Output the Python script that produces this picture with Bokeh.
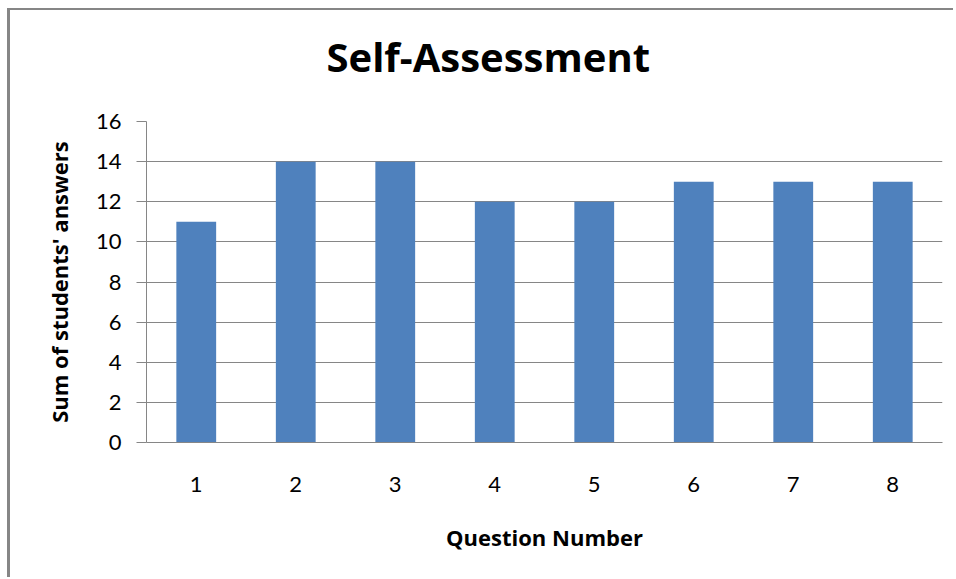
from bokeh.plotting import figure
from bokeh.models import Range1d, FixedTicker, ColumnDataSource, Title
from bokeh.embed import file_html
from bokeh.resources import INLINE

questions = [1, 2, 3, 4, 5, 6, 7, 8]
answers = [11, 14, 14, 12, 12, 13, 13, 13]
y_ticks = [0, 2, 4, 6, 8, 10, 12, 14, 16]
title_text = "Self-Assessment"
x_label = "Question Number"
y_label = "Sum of students' answers"

GRAY = "#868686"
BAR = "#4F81BD"
FONT = "Lato"
LFONT = "Open Sans"

src = ColumnDataSource(data=dict(q=questions, a=answers))

p = figure(width=946, height=569, output_backend="svg", toolbar_location=None,
           x_range=Range1d(0.5, 8.5), y_range=Range1d(0, 16),
           min_border_left=136, min_border_right=14, min_border_top=111,
           min_border_bottom=137,
           styles={"margin-left": "7px", "margin-top": "8px",
                   "border-left": f"3px solid {GRAY}",
                   "border-top": f"2px solid {GRAY}"})
p.outline_line_color = None
p.background_fill_color = "white"
p.border_fill_color = "white"

# spacer between frame and title (nearest to the frame)
p.add_layout(Title(text=" ", text_font_size="1px", standoff=35), "above")
p.add_layout(Title(text=title_text, align="left", vertical_align="bottom",
                   text_font=LFONT, text_font_style="bold", text_font_size="40px",
                   text_color="black", standoff=0, offset=180), "above")

p.vbar(x="q", top="a", width=0.4, bottom=0, source=src, color=BAR, line_color=None)

p.xgrid.visible = False
p.ygrid.grid_line_color = GRAY
p.ygrid.grid_line_width = 1
p.ygrid.ticker = FixedTicker(ticks=y_ticks)

p.yaxis.ticker = FixedTicker(ticks=y_ticks)
p.yaxis.axis_line_color = GRAY
p.yaxis.axis_line_width = 1
p.yaxis.major_tick_line_color = GRAY
p.yaxis.major_tick_out = 10
p.yaxis.major_tick_in = 0
p.yaxis.minor_tick_line_color = None
p.yaxis.major_label_standoff = 15
p.yaxis.major_label_text_font = FONT
p.yaxis.major_label_text_font_size = "22px"
p.yaxis.major_label_text_color = "black"
p.yaxis.axis_label = y_label
p.yaxis.axis_label_text_font = LFONT
p.yaxis.axis_label_text_font_style = "bold"
p.yaxis.axis_label_text_font_size = "22px"
p.yaxis.axis_label_text_color = "black"
p.yaxis.axis_label_standoff = 19

p.xaxis.ticker = FixedTicker(ticks=questions)
p.xaxis.axis_line_color = GRAY
p.xaxis.axis_line_width = 1
p.xaxis.major_tick_line_color = None
p.xaxis.minor_tick_line_color = None
p.xaxis.major_tick_out = 0
p.xaxis.major_tick_in = 0
p.xaxis.major_label_standoff = 34
p.xaxis.major_label_text_font = FONT
p.xaxis.major_label_text_font_size = "22px"
p.xaxis.major_label_text_color = "black"
p.xaxis.axis_label = x_label
p.xaxis.axis_label_text_font = LFONT
p.xaxis.axis_label_text_font_style = "bold"
p.xaxis.axis_label_text_font_size = "22px"
p.xaxis.axis_label_text_color = "black"
p.xaxis.axis_label_standoff = 27

open("out.html", "w").write(file_html(p, INLINE))
